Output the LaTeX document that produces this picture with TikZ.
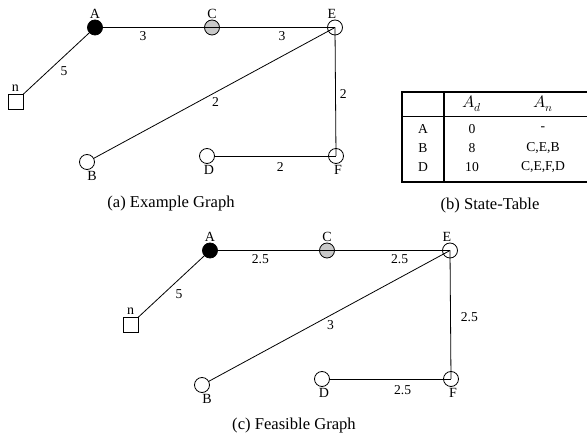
\documentclass[tikz,border=0pt]{standalone}
\usepackage{fontspec}
\usepackage{unicode-math}
\setmainfont{Liberation Serif}
\setmathfont{Latin Modern Math}
\usetikzlibrary{positioning}

\definecolor{visitgray}{RGB}{200,200,200}

\tikzset{
  vertex/.style={circle,draw,line width=0.8pt,minimum size=15pt,inner sep=0pt},
  startvertex/.style={vertex,fill=black},
  visited/.style={vertex,fill=visitgray},
  srcbox/.style={rectangle,draw,line width=0.8pt,minimum size=15pt,inner sep=0pt},
  link/.style={line width=0.8pt},
  vlabel/.style={font=\fontsize{14}{16}\selectfont,inner sep=1pt,text height=9.3pt,text depth=0pt},
  weight/.style={font=\fontsize{13.6}{15}\selectfont,inner sep=2pt},
  cell/.style={font=\fontsize{13.6}{16}\selectfont,inner sep=0pt},
  headcell/.style={font=\fontsize{16.5}{18}\selectfont,inner sep=0pt},
  subcap/.style={font=\fontsize{16.6}{19}\selectfont,anchor=base,inner sep=0pt}
}

\begin{document}
\begin{tikzpicture}[x=1pt,y=-1pt]
  \useasboundingbox (0,0) rectangle (587,438);

  % (a) example graph
  \node[startvertex] (aA) at (95,27.5)  {};
  \node[visited]     (aC) at (212,27.5) {};
  \node[vertex]      (aE) at (335,27.5) {};
  \node[srcbox]      (an) at (15.5,102) {};
  \node[vertex]      (aB) at (87,162)   {};
  \node[vertex]      (aD) at (207,156)  {};
  \node[vertex]      (aF) at (336,156)  {};

  \node[vlabel,above=0pt of aA] (aAl) {A};
  \node[vlabel,above=0pt of aC] (aCl) {C};
  \node[vlabel,above=0pt of aE,xshift=-3pt] (aEl) {E};
  \node[vlabel,above=1.5pt of an] (anl) {n};
  \node[vlabel,below=0pt of aB,xshift=5pt] (aBl) {B};
  \node[vlabel,below=0pt of aD,xshift=2pt] (aDl) {D};
  \node[vlabel,below=0pt of aF,xshift=2pt] (aFl) {F};

  \draw[link] (an.north east) -- node[weight,pos=0.47,below right=1.5pt] (aw1) {5} (aA.center);
  \draw[link] (aA.center) -- node[weight,pos=0.41,below=2pt] (aw2) {3} (aC.center)
                          -- node[weight,pos=0.57,below=2pt] (aw3) {3} (aE.center);
  \draw[link] (aE.center) -- node[weight,pos=0.52,below right=0pt] (aw4) {2} (aB);
  \draw[link] (aE.center) -- node[weight,pos=0.52,right=2pt] (aw5) {2} (aF.center);
  \draw[link] (aD) -- node[weight,pos=0.54,below=4.5pt] (aw6) {2} (aF.center);

  \node[subcap] (capa) at (171,208) {(a) Example Graph};

  % (b) state table
  \draw[line width=1.4pt] (590,92) -- (402,92) -- (402,182) -- (590,182);
  \draw[line width=1.4pt] (444,92) -- (444,182);
  \draw[line width=0.8pt] (402,116) -- (590,116);
  \node[headcell] (hd) at (472,104) {$A_d$};
  \node[headcell] (hn) at (543,104) {$A_n$};
  \node[cell] (rA)  at (423,129) {A};
  \node[cell] (rAd) at (472,129) {0};
  \node[cell] (rAn) at (543,129) {-};
  \node[cell] (rB)  at (423,148) {B};
  \node[cell] (rBd) at (472,148) {8};
  \node[cell] (rBn) at (543,148) {C,E,B};
  \node[cell] (rD)  at (423,167) {D};
  \node[cell] (rDd) at (472,167) {10};
  \node[cell] (rDn) at (543,167) {C,E,F,D};

  \node[subcap] (capb) at (490,210) {(b) State-Table};

  % (c) feasible graph
  \begin{scope}[shift={(115,223)}]
    \node[startvertex] (cA) at (95,27.5)  {};
    \node[visited]     (cC) at (212,27.5) {};
    \node[vertex]      (cE) at (335,27.5) {};
    \node[srcbox]      (cn) at (15.5,102) {};
    \node[vertex]      (cB) at (87,162)   {};
    \node[vertex]      (cD) at (207,156)  {};
    \node[vertex]      (cF) at (336,156)  {};

    \node[vlabel,above=0pt of cA] (cAl) {A};
    \node[vlabel,above=0pt of cC] (cCl) {C};
    \node[vlabel,above=0pt of cE,xshift=-3pt] (cEl) {E};
    \node[vlabel,above=1.5pt of cn] (cnl) {n};
    \node[vlabel,below=0pt of cB,xshift=5pt] (cBl) {B};
    \node[vlabel,below=0pt of cD,xshift=2pt] (cDl) {D};
    \node[vlabel,below=0pt of cF,xshift=2pt] (cFl) {F};

    \draw[link] (cn.north east) -- node[weight,pos=0.47,below right=1.5pt] (cw1) {5} (cA.center);
    \draw[link] (cA.center) -- node[weight,pos=0.43,below=2pt] (cw2) {2.5} (cC.center)
                            -- node[weight,pos=0.59,below=2pt] (cw3) {2.5} (cE.center);
    \draw[link] (cE.center) -- node[weight,pos=0.52,below right=0pt] (cw4) {3} (cB);
    \draw[link] (cE.center) -- node[weight,pos=0.52,right=8pt] (cw5) {2.5} (cF.center);
    \draw[link] (cD) -- node[weight,pos=0.6,below=4.5pt] (cw6) {2.5} (cF.center);
  \end{scope}

  \node[subcap] (capc) at (294,430) {(c) Feasible Graph};
\end{tikzpicture}
\end{document}
